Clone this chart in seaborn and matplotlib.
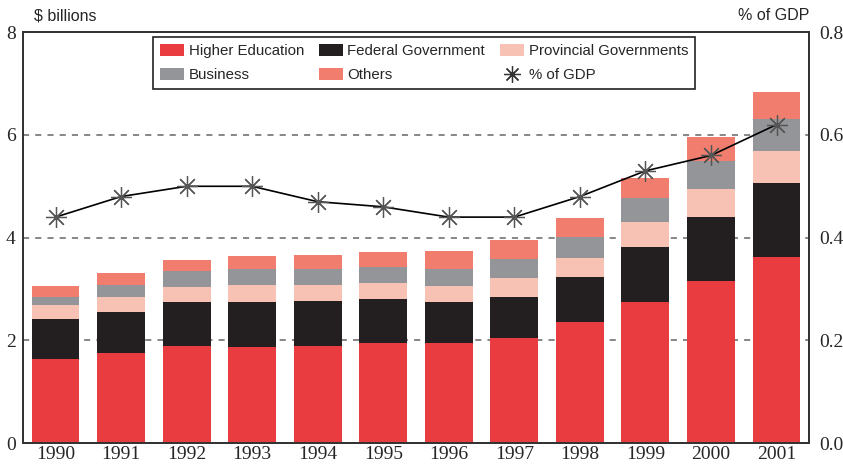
import numpy as np
import matplotlib
matplotlib.use('Agg')
import matplotlib.pyplot as plt
import seaborn as sns
from matplotlib.patches import Patch
from matplotlib.lines import Line2D

# Data
years = ['1990', '1991', '1992', '1993', '1994', '1995', '1996', '1997', '1998', '1999', '2000', '2001']
higher_education = [1.63, 1.75, 1.89, 1.87, 1.89, 1.95, 1.95, 2.04, 2.36, 2.74, 3.15, 3.62]
federal_government = [0.78, 0.80, 0.85, 0.87, 0.87, 0.85, 0.79, 0.80, 0.87, 1.08, 1.25, 1.44]
provincial_governments = [0.28, 0.29, 0.30, 0.34, 0.32, 0.32, 0.32, 0.37, 0.37, 0.48, 0.54, 0.62]
business = [0.15, 0.24, 0.31, 0.31, 0.31, 0.31, 0.33, 0.37, 0.41, 0.47, 0.55, 0.63]
others = [0.22, 0.23, 0.21, 0.25, 0.27, 0.29, 0.35, 0.37, 0.37, 0.39, 0.47, 0.52]
pct_gdp = [0.44, 0.48, 0.50, 0.50, 0.47, 0.46, 0.44, 0.44, 0.48, 0.53, 0.56, 0.62]

series_names = ['Higher Education', 'Federal Government', 'Provincial Governments', 'Business', 'Others']
series_values = [higher_education, federal_government, provincial_governments, business, others]
colors = ['#E83C41', '#231F20', '#F7C1B3', '#939598', '#F07D6E']

sns.set_style('white')
plt.rcParams['font.family'] = ['Liberation Sans', 'DejaVu Sans']
serif = 'Liberation Serif'

fig = plt.figure(figsize=(8.43, 4.66), dpi=100)
ax = fig.add_axes([0.027, 0.049, 0.933, 0.882])

# Stacked bars
bottom = np.zeros(len(years))
for name, vals, c in zip(series_names, series_values, colors):
    sns.barplot(x=years, y=vals, bottom=bottom, color=c, width=0.73,
                ax=ax, saturation=1, linewidth=0)
    bottom = bottom + np.array(vals)

ax.set_xlim(-0.5, len(years) - 0.5)
ax.set_ylim(0, 8)
ax.set_yticks([0, 2, 4, 6, 8])
for g in [2, 4, 6]:
    ax.axhline(g, color='#666666', linestyle=(0, (4, 4)), linewidth=1.1, zorder=0.5)

# x ticks between bars, labels centered under bars
ax.set_xticks(np.arange(len(years)))
ax.set_xticklabels(years, fontfamily=serif, fontsize=14)
ax.set_xticks(np.arange(len(years) - 1) + 0.5, minor=True)
ax.tick_params(axis='x', which='major', length=0, pad=2)
ax.tick_params(axis='x', which='minor', length=6, direction='in', color='#333333', width=1)
ax.tick_params(axis='y', length=0, pad=5)
for lab in ax.get_yticklabels():
    lab.set_fontfamily(serif)
    lab.set_fontsize(14)
ax.set_xlabel('')
ax.set_ylabel('')

for s in ax.spines.values():
    s.set_color('#333333')
    s.set_linewidth(1.3)

# % of GDP on the right axis
ax2 = ax.twinx()
sns.lineplot(x=np.arange(len(years)), y=pct_gdp, ax=ax2, color='black', linewidth=1.2,
             marker=(8, 2, 0), markersize=15, markeredgecolor='#555555', markeredgewidth=0.9)
ax2.set_ylim(0, 0.8)
ax2.set_yticks([0, 0.2, 0.4, 0.6, 0.8])
ax2.set_yticklabels(['0.0', '0.2', '0.4', '0.6', '0.8'], fontfamily=serif, fontsize=14)
ax2.tick_params(axis='y', length=0, pad=7)
ax2.set_ylabel('')
for s in ax2.spines.values():
    s.set_color('#333333')
    s.set_linewidth(1.3)

fig.text(0.040, 0.966, '$ billions', fontsize=11.5, ha='left', va='center')
fig.text(0.960, 0.966, '% of GDP', fontsize=11.5, ha='right', va='center')

handles = [Patch(facecolor=c, edgecolor='none') for c in colors]
handles.append(Line2D([], [], color='none', marker=(8, 2, 0), markersize=12,
                      markeredgecolor='#333333', markeredgewidth=0.9))
labels = series_names + ['% of GDP']
# reorder so rows read as in the reference (ncol fills column-wise)
order = [0, 3, 1, 4, 2, 5]
leg = ax2.legend([handles[i] for i in order], [labels[i] for i in order], ncol=3,
                 loc='upper left', bbox_to_anchor=(0.166, 0.988), borderaxespad=0,
                 fontsize=10.8, frameon=True, fancybox=False, edgecolor='#222222',
                 framealpha=1, handlelength=1.6, handleheight=0.9, handletextpad=0.3,
                 columnspacing=1.0, labelspacing=0.65, borderpad=0.45)
leg.get_frame().set_linewidth(1.2)

fig.savefig('out.png', dpi=100)
